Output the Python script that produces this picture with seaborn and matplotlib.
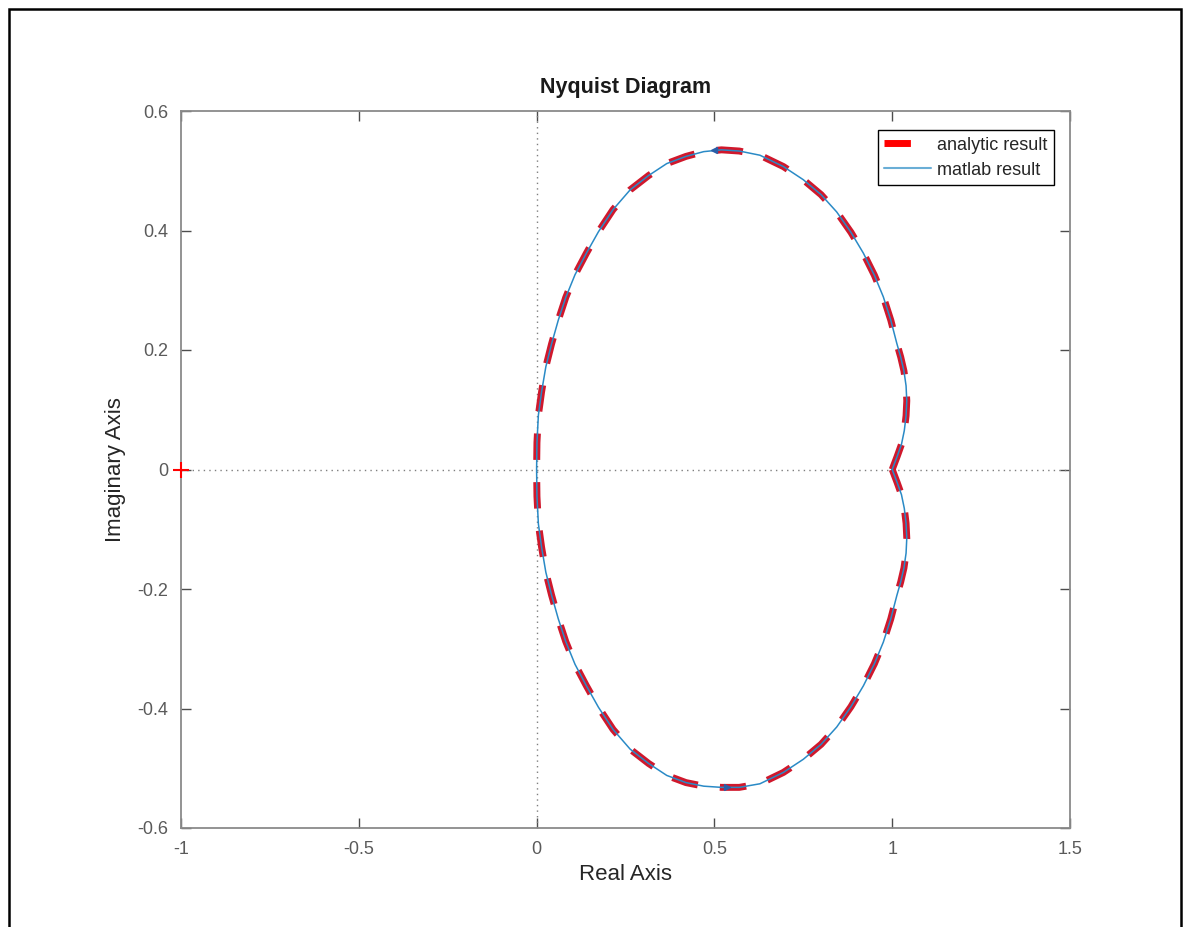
import numpy as np
import pandas as pd
import matplotlib
matplotlib.use("Agg")
import matplotlib.pyplot as plt
from matplotlib.lines import Line2D
from matplotlib.patches import Rectangle
import seaborn as sns

# ---- data ----
upper_re = [1.000, 1.014, 1.026, 1.034, 1.039, 1.041, 1.039, 1.033, 1.024, 1.013,
            0.996, 0.975, 0.950, 0.919, 0.884, 0.844, 0.800, 0.750, 0.694, 0.628,
            0.570, 0.520, 0.470, 0.420, 0.366, 0.315, 0.263, 0.215, 0.174, 0.140,
            0.108, 0.082, 0.061, 0.042, 0.026, 0.014, 0.005, 0.001, 0.000]
upper_im = [0.000, 0.022, 0.042, 0.065, 0.090, 0.115, 0.140, 0.165, 0.188, 0.211,
            0.250, 0.289, 0.325, 0.362, 0.397, 0.431, 0.460, 0.485, 0.507, 0.526,
            0.533, 0.535, 0.532, 0.524, 0.512, 0.492, 0.468, 0.435, 0.398, 0.362,
            0.326, 0.288, 0.250, 0.210, 0.172, 0.130, 0.091, 0.045, 0.000]
lower_re = [0.000, 0.001, 0.005, 0.014, 0.026, 0.042, 0.061, 0.082, 0.108, 0.140,
            0.174, 0.215, 0.263, 0.315, 0.366, 0.420, 0.470, 0.520, 0.570, 0.628,
            0.694, 0.750, 0.800, 0.844, 0.884, 0.919, 0.950, 0.975, 0.996, 1.013,
            1.024, 1.033, 1.039, 1.041, 1.039, 1.034, 1.026, 1.014, 1.000]
lower_im = [0.000, -0.045, -0.091, -0.130, -0.172, -0.210, -0.250, -0.288, -0.326, -0.362,
            -0.398, -0.435, -0.468, -0.492, -0.512, -0.524, -0.530, -0.532, -0.532, -0.526,
            -0.507, -0.485, -0.460, -0.431, -0.397, -0.362, -0.325, -0.289, -0.250, -0.211,
            -0.188, -0.165, -0.140, -0.115, -0.090, -0.065, -0.042, -0.022, 0.000]

critical_point = (-1.0, 0.0)
x_ticks = [-1, -0.5, 0, 0.5, 1, 1.5]
x_tick_labels = ["-1", "-0.5", "0", "0.5", "1", "1.5"]
y_ticks = [-0.6, -0.4, -0.2, 0, 0.2, 0.4, 0.6]
y_tick_labels = ["-0.6", "-0.4", "-0.2", "0", "0.2", "0.4", "0.6"]
series_labels = ["analytic result", "matlab result"]

df = pd.DataFrame({
    "re": upper_re + lower_re,
    "im": upper_im + lower_im,
})

# ---- style ----
sns.set_theme(style="white")
plt.rcParams["font.family"] = ["Liberation Sans", "DejaVu Sans"]

W, H = 1183, 927
fig = plt.figure(figsize=(W / 100, H / 100), dpi=100)
ax = fig.add_axes([181 / W, (H - 828) / H, (1070 - 181) / W, (828 - 111) / H])

axis_gray = "#4d4d4d"
red = "#ff0000"
dash_red = "#d0182c"
blue = "#2a8ac6"
dash_style = (0, (3.8, 3.2))

# zero lines (dotted)
ax.axhline(0, color="#7f7f7f", lw=1.0, ls=(0, (1, 3)), zorder=1)
ax.axvline(0, color="#7f7f7f", lw=1.0, ls=(0, (1, 3)), zorder=1)

sns.lineplot(data=df, x="re", y="im", sort=False, estimator=None, ax=ax,
             color=dash_red, lw=5.0, linestyle=dash_style, zorder=3,
             legend=False)
sns.lineplot(data=df, x="re", y="im", sort=False, estimator=None, ax=ax,
             color=blue, lw=1.1, zorder=4, legend=False)

# MATLAB direction arrows (small blue triangles) at the extremes
ax.plot([0.50], [0.535], marker="<", color="#2a5fa8", ms=5, zorder=5, ls="none")
ax.plot([0.535], [-0.532], marker=">", color="#2a5fa8", ms=5, zorder=5, ls="none")

# critical point
ax.plot([critical_point[0]], [critical_point[1]], marker="+", color=red,
        ms=11, mew=1.5, zorder=6, clip_on=False, ls="none")

ax.set_xlim(-1, 1.5)
ax.set_ylim(-0.6, 0.6)
ax.set_xticks(x_ticks)
ax.set_xticklabels(x_tick_labels)
ax.set_yticks(y_ticks)
ax.set_yticklabels(y_tick_labels)

ax.tick_params(axis="both", which="both", direction="in", length=7, width=1,
               colors=axis_gray, labelcolor="#5a5a5a", labelsize=13,
               top=True, right=True, bottom=True, left=True, pad=9)
for s in ax.spines.values():
    s.set_color("#8a8a8a")
    s.set_linewidth(1.3)

ax.set_xlabel("Real Axis", fontsize=16, color="#262626", labelpad=5)
ax.set_ylabel("Imaginary Axis", fontsize=16, color="#262626", labelpad=8)
ax.set_title("Nyquist Diagram", fontsize=15.5, fontweight="bold", color="#1a1a1a", pad=13)

handles = [Line2D([0], [0], color=red, lw=5, linestyle=dash_style),
           Line2D([0], [0], color="#6aaed6", lw=1.5)]
leg = ax.legend(handles, series_labels, loc="upper right",
                bbox_to_anchor=(0.982, 0.973), fontsize=13, frameon=True,
                fancybox=False, edgecolor="black", framealpha=1,
                handlelength=2.6, borderpad=0.35, labelspacing=0.45,
                handletextpad=0.35, borderaxespad=0)
leg.get_frame().set_linewidth(1.0)

# outer figure border
fig.patches.append(Rectangle((9 / W, -0.02), (1181 - 9) / W, (H - 9) / H + 0.02,
                             transform=fig.transFigure, fill=False,
                             edgecolor="black", lw=1.8))

fig.savefig("out.png", dpi=100, facecolor="white")
